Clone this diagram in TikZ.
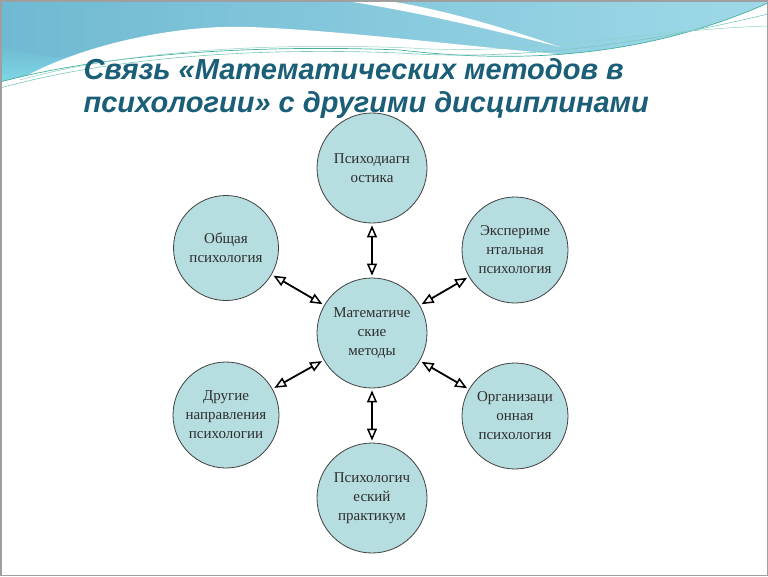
\documentclass[tikz,border=0pt]{standalone}
\usepackage{fontspec}
\setmainfont{Liberation Serif}
\newfontfamily\titlefont{Liberation Sans}
\usetikzlibrary{arrows.meta}
\definecolor{circfill}{HTML}{B6DDE0}
\definecolor{titlecol}{HTML}{1A5E78}
\definecolor{bandleft}{HTML}{6FB9D2}
\definecolor{bandright}{HTML}{9FD9E8}
\definecolor{greenline}{HTML}{45B0A0}
\definecolor{leftcyan}{HTML}{7ED8E6}
\begin{document}
\begin{tikzpicture}[x=1pt,y=-1pt,
  disc/.style={circle, draw=black!75, line width=0.8pt, fill=circfill, inner sep=0pt,
    align=center, font=\fontsize{15}{19}\selectfont, text=black!82},
  link/.style={line width=1.8pt, {Triangle[open,length=12pt,width=10pt,line width=1.5pt]}-{Triangle[open,length=12pt,width=10pt,line width=1.5pt]},
    shorten >=2pt, shorten <=2pt},
  ttl/.style={anchor=base west, font=\titlefont\bfseries\itshape\fontsize{29}{34}\selectfont, text=titlecol}]
\useasboundingbox (0,0) rectangle (768,576);
% background band
\shade[left color=bandleft, right color=bandright]
  (0,0) -- (768,0) -- (768,3) .. controls (650,55) and (530,65) .. (400,50)
  .. controls (250,44) and (100,55) .. (0,82) -- cycle;
\shade[top color=bandleft, bottom color=leftcyan]
  (0,45) .. controls (30,55) and (60,60) .. (95,58) .. controls (60,66) and (30,74) .. (0,82) -- cycle;
% white wave
\fill[white] (12,84) .. controls (70,48) and (170,24) .. (250,27)
  .. controls (350,31) and (460,46) .. (580,56) -- (580,120) -- (12,120) -- cycle;
% white streak
\fill[white] (340,0) .. controls (420,12) and (500,32) .. (560,47)
  .. controls (500,26) and (430,6) .. (380,0) -- cycle;
% green lines
\draw[greenline, line width=0.7pt] (0,82) .. controls (100,55) and (250,44) .. (400,50)
  .. controls (530,65) and (650,55) .. (768,3);
\draw[greenline!70!white, line width=0.6pt] (0,88) .. controls (110,58) and (250,47) .. (400,53)
  .. controls (530,62) and (660,40) .. (768,14);
\draw[greenline!60!white, line width=0.5pt] (20,80) .. controls (120,52) and (260,42) .. (410,48)
  .. controls (540,56) and (640,30) .. (768,26);
% title
\node[ttl] (t1) at (80,79) {Связь «Математических методов в};
\node[ttl] (t2) at (80,112) {психологии» с другими дисциплинами};
% circles
\node[disc, minimum size=110pt] (m) at (372,333) {Математиче\\ские\\методы};
\node[disc, minimum size=110pt] (pd) at (372,168) {Психодиагн\\остика};
\node[disc, minimum size=110pt] (pp) at (372,498) {Психологич\\еский\\практикум};
\node[disc, minimum size=105pt] (op) at (226,248) {Общая\\психология};
\node[disc, minimum size=106pt] (ep) at (515,250) {Экспериме\\нтальная\\психология};
\node[disc, minimum size=106pt] (dn) at (226,415) {Другие\\направления\\психологии};
\node[disc, minimum size=106pt] (or) at (515,416) {Организаци\\онная\\психология};
% connectors
\draw[link] (pd) -- (m);
\draw[link] (pp) -- (m);
\draw[link] (op) -- (m);
\draw[link] (ep) -- (m);
\draw[link] (dn) -- (m);
\draw[link] (or) -- (m);
% frame
\draw[gray!75, line width=1.5pt] (0.75,0.75) rectangle (767.25,575.25);
\end{tikzpicture}
\end{document}
